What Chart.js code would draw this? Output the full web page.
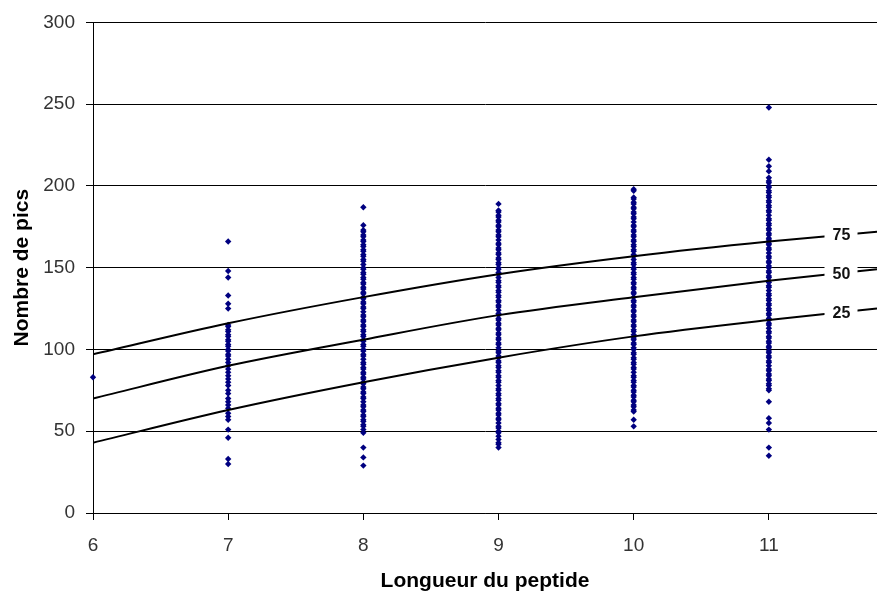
<!DOCTYPE html>
<html>
<head>
<meta charset="utf-8">
<script src="https://cdn.jsdelivr.net/npm/chart.js@4"></script>
<style>
    html, body { margin: 0; padding: 0; background: #fff; }
    #wrap { width: 877px; height: 592px; }
</style>
</head>
<body>
<div id="wrap"><canvas id="chart" width="877" height="592"></canvas></div>
<script>
// Peak counts per peptide length
const len6 = [83];
const len7 = [166, 148, 144, 133, 128, 125, 115, 114, 112, 111, 109, 108, 106, 105, 103, 102, 100, 99, 97, 96,
    94, 92, 90, 88, 86, 84, 82, 80, 78, 75, 73, 70, 68, 66, 64, 61, 59, 57, 51, 46, 33, 30];
const len8 = [187, 176, 173, 172, 170, 169, 167, 166, 164, 163, 161, 160, 158, 157, 155, 154, 152, 150, 149, 147,
    146, 144, 143, 141, 140, 138, 137, 135, 134, 132, 131, 129, 128, 126, 125, 123, 121, 120, 118, 117,
    115, 114, 112, 111, 109, 108, 106, 105, 103, 102, 100, 99, 97, 96, 94, 92, 91, 89, 88, 86,
    85, 83, 82, 80, 79, 77, 76, 74, 73, 71, 70, 68, 66, 65, 63, 62, 60, 59, 57, 56,
    54, 53, 51, 49, 40, 34, 29];
const len9 = [189, 185, 184, 182, 181, 179, 178, 176, 175, 173, 172, 170, 169, 167, 165, 164, 162, 161, 159, 158,
    156, 155, 153, 152, 150, 149, 147, 146, 144, 142, 141, 139, 138, 136, 135, 133, 132, 130, 129, 127,
    126, 124, 122, 121, 119, 118, 116, 115, 113, 112, 110, 109, 107, 106, 104, 103, 101, 99, 98, 96,
    95, 93, 92, 90, 89, 87, 86, 84, 83, 81, 80, 78, 76, 75, 73, 72, 70, 69, 67, 66,
    64, 63, 61, 60, 58, 57, 55, 53, 52, 50, 49, 47, 45, 43, 42, 40];
const len10 = [198, 197, 193, 192, 190, 189, 187, 186, 184, 183, 181, 180, 178, 176, 175, 173, 172, 170, 169, 167,
    166, 164, 163, 161, 160, 158, 157, 155, 153, 152, 150, 149, 147, 146, 144, 143, 141, 140, 138, 137,
    135, 134, 132, 130, 129, 127, 126, 124, 123, 121, 120, 118, 117, 115, 114, 112, 111, 109, 107, 106,
    104, 103, 101, 100, 98, 97, 95, 94, 92, 91, 89, 88, 86, 84, 83, 81, 80, 78, 77, 75,
    74, 72, 71, 69, 68, 66, 65, 63, 62, 57, 53];
const len11 = [248, 216, 212, 209, 205, 203, 202, 200, 199, 197, 196, 194, 193, 191, 190, 188, 187, 185, 184, 182,
    180, 179, 177, 176, 174, 173, 171, 170, 168, 167, 165, 164, 162, 161, 159, 157, 156, 154, 153, 151,
    150, 148, 147, 145, 144, 142, 141, 139, 138, 136, 134, 133, 131, 130, 128, 127, 125, 124, 122, 121,
    119, 118, 116, 115, 113, 111, 110, 108, 107, 105, 104, 102, 101, 99, 98, 96, 95, 93, 92, 90,
    88, 87, 85, 84, 82, 81, 79, 78, 76, 75, 68, 58, 55, 51, 40, 35];

// Percentile curves (25 / 50 / 75)
const curveX = [6, 7, 8, 9, 10, 11, 11.8];
const p75 = [97, 116, 132, 146, 157, 166, 172];
const p50 = [70, 90, 106, 121, 132, 142, 149];
const p25 = [43, 63, 80, 95, 108, 118, 125];
const curveNames = ['75', '50', '25'];

const xTicks = [6, 7, 8, 9, 10, 11];
const yTicks = [0, 50, 100, 150, 200, 250, 300];

const columns = [[6, len6], [7, len7], [8, len8], [9, len9], [10, len10], [11, len11]];
const scatterPoints = [];
columns.forEach(([len, vals]) => vals.forEach(v => scatterPoints.push({ x: len, y: v })));

function curve(values, name) {
    return {
        type: 'line',
        label: name,
        curveLabel: name,
        data: curveX.map((x, i) => ({ x: x, y: values[i] })),
        borderColor: '#000',
        borderWidth: 2,
        pointRadius: 0,
        fill: false,
        cubicInterpolationMode: 'monotone',
        order: 0
    };
}

// writes the percentile number over its curve, near the right edge
const curveLabels = {
    id: 'curveLabels',
    afterDatasetsDraw(chart) {
        const { ctx, scales: { x, y } } = chart;
        const at = 11.53;
        ctx.save();
        ctx.font = 'bold 16px "Liberation Sans", Arial, sans-serif';
        ctx.textAlign = 'center';
        ctx.textBaseline = 'middle';
        chart.data.datasets.forEach(ds => {
            if (!ds.curveLabel) return;
            const pts = ds.data;
            const a = pts[pts.length - 2], b = pts[pts.length - 1];
            const v = a.y + (b.y - a.y) * (at - a.x) / (b.x - a.x);
            const px = x.getPixelForValue(at);
            const py = y.getPixelForValue(v);
            ctx.fillStyle = '#fff';
            ctx.fillRect(px - 16, py - 9, 33, 18);
            ctx.fillStyle = '#111';
            ctx.fillText(ds.curveLabel, px + 1, py + 1);
        });
        ctx.restore();
    }
};

Chart.defaults.font.family = '"Liberation Sans", Arial, sans-serif';

new Chart(document.getElementById('chart'), {
    type: 'scatter',
    data: {
        datasets: [
            curve(p75, curveNames[0]),
            curve(p50, curveNames[1]),
            curve(p25, curveNames[2]),
            {
                label: 'Pics',
                data: scatterPoints,
                pointStyle: 'rectRot',
                pointRadius: 3.2,
                pointBorderWidth: 0,
                backgroundColor: '#000080',
                borderColor: '#000080',
                clip: false,
                order: 1
            }
        ]
    },
    options: {
        responsive: false,
        animation: false,
        layout: { autoPadding: false, padding: { top: 22, right: 0, left: 0, bottom: 0 } },
        plugins: {
            legend: { display: false },
            tooltip: { enabled: false }
        },
        scales: {
            x: {
                type: 'linear',
                min: 6,
                max: 11.8,
                afterBuildTicks: s => { s.ticks = xTicks.map(v => ({ value: v })); },
                afterFit: s => { s.height = 79; s.paddingRight = 0; s.paddingLeft = 0; },
                ticks: { color: '#333', font: { size: 19 }, padding: 14 },
                grid: { drawOnChartArea: false, tickLength: 7, tickColor: '#000' },
                border: { color: '#000', width: 1 },
                title: {
                    display: true,
                    text: 'Longueur du peptide',
                    color: '#000',
                    font: { size: 21, weight: 'bold', lineHeight: 1 },
                    padding: 0
                }
            },
            y: {
                min: 0,
                max: 300,
                afterBuildTicks: s => { s.ticks = yTicks.map(v => ({ value: v })); },
                afterFit: s => { s.width = 93; },
                ticks: { color: '#333', font: { size: 19 }, padding: 11 },
                grid: { color: '#000', lineWidth: 1, tickLength: 7, tickColor: '#000' },
                border: { color: '#000', width: 1 },
                title: {
                    display: true,
                    text: 'Nombre de pics',
                    color: '#000',
                    font: { size: 21, weight: 'bold', lineHeight: 1 },
                    padding: { top: 12, bottom: 0 }
                }
            }
        }
    },
    plugins: [curveLabels]
});
</script>
</body>
</html>
